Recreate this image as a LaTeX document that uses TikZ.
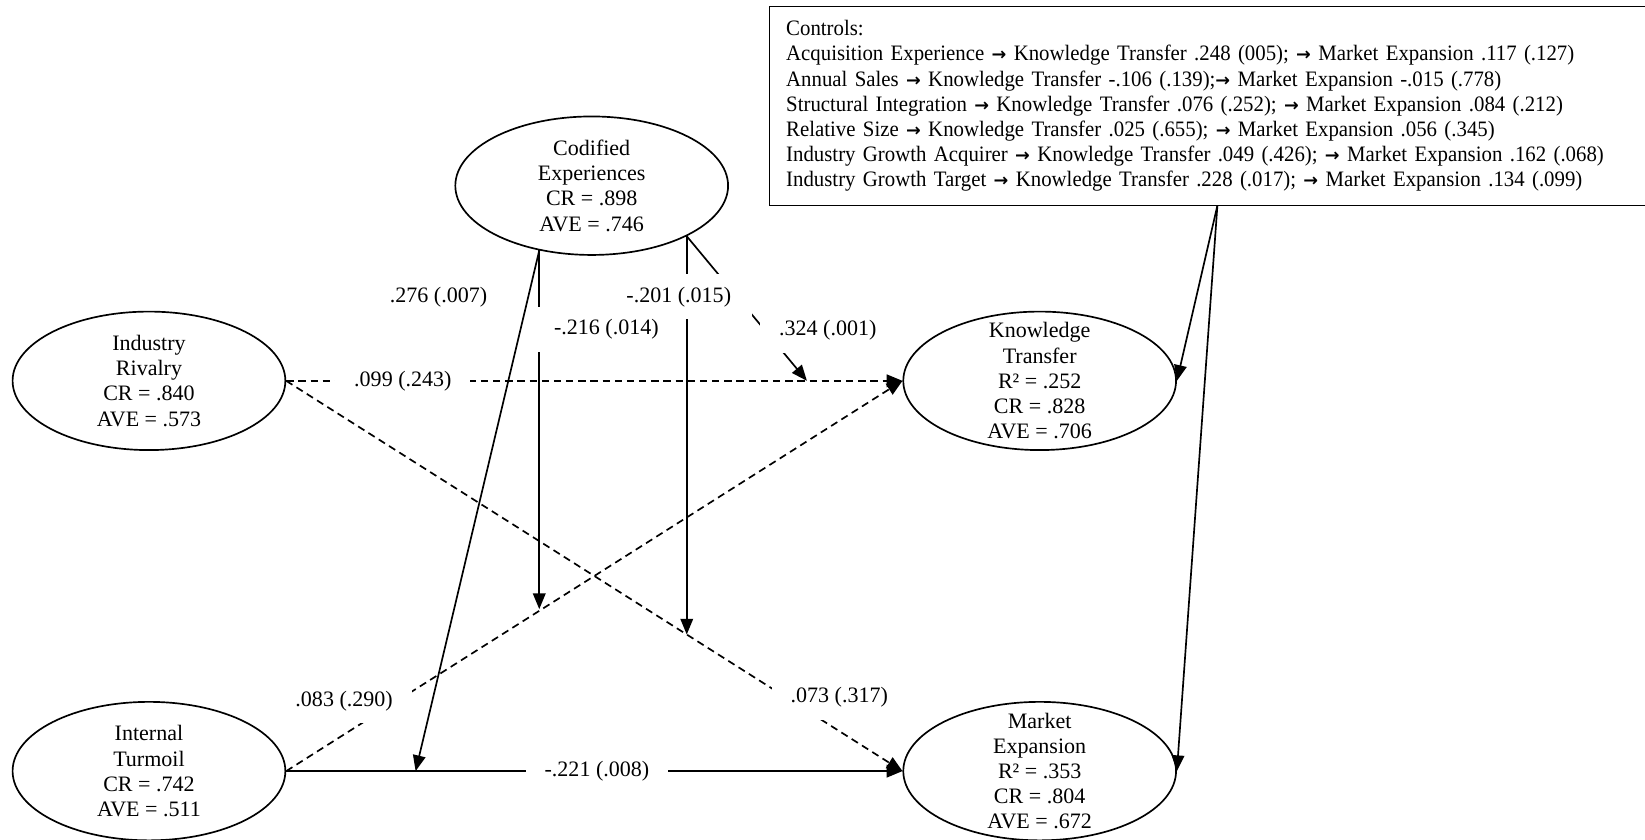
\documentclass[tikz,border=0pt]{standalone}
\usepackage{fontspec}
\setmainfont{Liberation Serif}
\newfontfamily\ctrlfont[FakeStretch=0.945]{Liberation Serif}
\newfontfamily\arrfont[Scale=0.8]{DejaVu Sans}
\newcommand{\toarr}{{\arrfont\bfseries →}}
\usetikzlibrary{shapes.geometric,arrows.meta,calc}

\begin{document}
\begin{tikzpicture}[x=0.5pt,y=-0.5pt,
  font=\fontsize{10.5}{12}\selectfont,
  var/.style={draw,thick,ellipse,minimum width=130pt,minimum height=66pt,inner sep=-8pt,align=center},
  eff/.style={thick,-{Triangle[length=7.5pt,width=6pt]}},
  ns/.style={eff,dash pattern=on 3.5pt off 2.3pt},
  coef/.style={fill=white,inner xsep=9pt,inner ysep=6pt}]
  \useasboundingbox (0,0) rectangle (1568,800);
  % constructs
  \node[var] (ce) at (564,177) {Codified\\Experiences\\CR = .898\\AVE = .746};
  \node[var] (ir) at (142,363) {Industry\\Rivalry\\CR = .840\\AVE = .573};
  \node[var] (it) at (142,735) {Internal\\Turmoil\\CR = .742\\AVE = .511};
  \node[var] (kt) at (991,363) {Knowledge\\Transfer\\R² = .252\\CR = .828\\AVE = .706};
  \node[var] (me) at (991,735) {Market\\Expansion\\R² = .353\\CR = .804\\AVE = .672};
  \node[draw,anchor=north west,text width=403pt,inner xsep=8pt,inner ysep=6.5pt,align=left,
        font=\ctrlfont\fontsize{10.5}{12}\selectfont] (ctrl) at (733,6)
    {Controls:\\
     Acquisition Experience \toarr{} Knowledge Transfer .248 (005); \toarr{} Market Expansion .117 (.127)\\
     Annual Sales \toarr{} Knowledge Transfer -.106 (.139);\toarr{} Market Expansion -.015 (.778)\\
     Structural Integration \toarr{} Knowledge Transfer .076 (.252); \toarr{} Market Expansion .084 (.212)\\
     Relative Size \toarr{} Knowledge Transfer .025 (.655); \toarr{} Market Expansion .056 (.345)\\
     Industry Growth Acquirer \toarr{} Knowledge Transfer .049 (.426); \toarr{} Market Expansion .162 (.068)\\
     Industry Growth Target \toarr{} Knowledge Transfer .228 (.017); \toarr{} Market Expansion .134 (.099)};
  % direct effects
  \draw[ns] (ir.east) -- (kt.west);
  \draw[ns] (ir.east) -- (me.west);
  \draw[ns] (it.east) -- (kt.west);
  \draw[eff] (it.east) -- (me.west);
  % moderation points
  \coordinate (m1) at ($(it.east)!0.415!(kt.west)$);
  \coordinate (m2) at ($(ir.east)!0.65!(me.west)$);
  \coordinate (m3) at ($(ir.east)!0.845!(kt.west)$);
  \coordinate (m4) at ($(it.east)!0.21!(me.west)$);
  \draw[eff] (ce.231) -- (ce.231 |- m1);
  \draw[eff] (ce.332) -- (ce.332 |- m2);
  \draw[eff] (ce.332) -- (m3);
  \draw[eff] (ce.231) -- (m4);
  % controls
  \draw[eff] ([xshift=4pt]ctrl.south) -- (kt.east);
  \draw[eff] ([xshift=4pt]ctrl.south) -- (me.east);
  % coefficients
  \node[coef] (l1) at (384,363) {.099 (.243)};
  \node[coef] (l2) at (418,283) {.276 (.007)};
  \node[coef,inner xsep=10pt] (l4) at (647,283) {-.201 (.015)};
  \node[coef] (l3) at (578,314) {-.216 (.014)};
  \node[coef] (l5) at (789,315) {.324 (.001)};
  \node[coef] (l6) at (328,668) {.083 (.290)};
  \node[coef] (l7) at (800,665) {.073 (.317)};
  \node[coef] (l8) at (569,735) {-.221 (.008)};
\end{tikzpicture}
\end{document}
